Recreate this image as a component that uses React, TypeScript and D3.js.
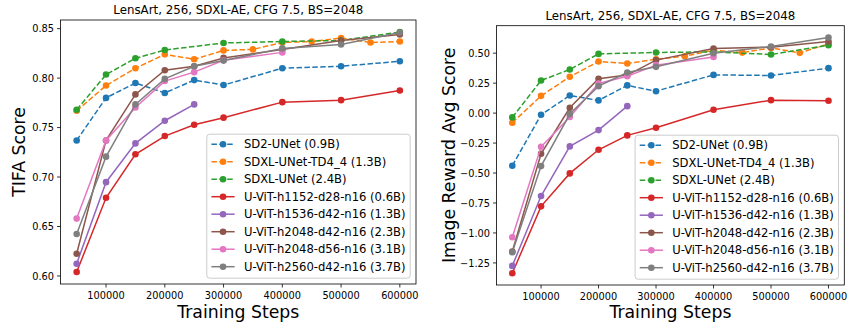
import React, { useEffect, useRef } from 'react';
import * as d3 from 'd3';

// training steps at which each run was evaluated
const stepsAll = [50000, 100000, 150000, 200000, 250000, 300000, 350000, 400000, 450000, 500000, 550000, 600000];
const stepsMain = [50000, 100000, 150000, 200000, 250000, 300000, 400000, 500000, 600000];
const stepsSDXL = [50000, 100000, 150000, 200000, 300000, 400000, 500000, 600000];
const stepsShort = [50000, 100000, 150000, 200000, 250000];
const stepsD56 = [50000, 100000, 150000, 200000, 250000, 300000, 400000];

const seriesNames = [
  'SD2-UNet (0.9B)',
  'SDXL-UNet-TD4_4 (1.3B)',
  'SDXL-UNet (2.4B)',
  'U-ViT-h1152-d28-n16 (0.6B)',
  'U-ViT-h1536-d42-n16 (1.3B)',
  'U-ViT-h2048-d42-n16 (2.3B)',
  'U-ViT-h2048-d56-n16 (3.1B)',
  'U-ViT-h2560-d42-n16 (3.7B)',
];
const seriesColors = ['#1f77b4', '#ff7f0e', '#2ca02c', '#d62728', '#9467bd', '#8c564b', '#e377c2', '#7f7f7f'];
const seriesDashed = [true, true, true, false, false, false, false, false];
const seriesSteps = [stepsMain, stepsAll, stepsSDXL, stepsMain, stepsShort, stepsMain, stepsD56, stepsMain];

// TIFA score
const tifaSD2 = [0.737, 0.780, 0.795, 0.785, 0.798, 0.793, 0.810, 0.812, 0.817];
const tifaTD4 = [0.767, 0.7925, 0.810, 0.824, 0.819, 0.828, 0.829, 0.836, 0.837, 0.8405, 0.836, 0.837];
const tifaSDXL = [0.768, 0.8036, 0.820, 0.8284, 0.8355, 0.837, 0.838, 0.8466];
const tifaH1152 = [0.604, 0.679, 0.723, 0.7414, 0.7528, 0.760, 0.7757, 0.7777, 0.7875];
const tifaH1536 = [0.6124, 0.6948, 0.734, 0.7569, 0.7734];
const tifaH2048d42 = [0.6225, 0.737, 0.7835, 0.808, 0.812, 0.8204, 0.829, 0.838, 0.844];
const tifaH2048d56 = [0.658, 0.737, 0.7703, 0.797, 0.806, 0.818, 0.826];
const tifaH2560 = [0.6424, 0.7206, 0.7734, 0.7992, 0.812, 0.8177, 0.830, 0.834, 0.846];

// Image Reward average score
const rwSD2 = [-0.439, -0.014, 0.147, 0.106, 0.231, 0.183, 0.319, 0.314, 0.375];
const rwTD4 = [-0.081, 0.144, 0.303, 0.431, 0.414, 0.45, 0.475, 0.525, 0.505, 0.544, 0.503, 0.578];
const rwSDXL = [-0.036, 0.272, 0.364, 0.494, 0.506, 0.511, 0.489, 0.567];
const rwH1152 = [-1.336, -0.778, -0.503, -0.306, -0.186, -0.122, 0.028, 0.108, 0.103];
const rwH1536 = [-1.275, -0.692, -0.278, -0.142, 0.058];
const rwH2048d42 = [-1.155, -0.339, 0.044, 0.286, 0.317, 0.442, 0.539, 0.55, 0.597];
const rwH2048d56 = [-1.036, -0.281, -0.033, 0.247, 0.308, 0.40, 0.469];
const rwH2560 = [-1.161, -0.442, -0.008, 0.225, 0.339, 0.386, 0.50, 0.556, 0.631];

const tifaValues = [tifaSD2, tifaTD4, tifaSDXL, tifaH1152, tifaH1536, tifaH2048d42, tifaH2048d56, tifaH2560];
const rwValues = [rwSD2, rwTD4, rwSDXL, rwH1152, rwH1536, rwH2048d42, rwH2048d56, rwH2560];

const xTicks = [100000, 200000, 300000, 400000, 500000, 600000];
const tifaTicks = [0.6, 0.65, 0.7, 0.75, 0.8, 0.85];
const rwTicks = [-1.25, -1.0, -0.75, -0.5, -0.25, 0.0, 0.25, 0.5];

const chartTitle = 'LensArt, 256, SDXL-AE, CFG 7.5, BS=2048';
const xLabel = 'Training Steps';

const FONT = 'DejaVu Sans, sans-serif';

// matplotlib-style padded extent (5% margins)
const padded = (vals: number[]) => {
  const [lo, hi] = d3.extent(vals) as [number, number];
  const m = (hi - lo) * 0.05;
  return [lo - m, hi + m];
};

const drawPanel = (svg: any, cfg: any) => {
  const { left, right, top, bottom, values, ticks, yLabel, titleY, yLabelX } = cfg;

  const x = d3.scaleLinear().domain(padded([50000, 600000])).range([left, right]);
  const y = d3.scaleLinear().domain(padded(values.flat())).range([bottom, top]);

  const g = svg.append('g');

  // series
  values.forEach((vals: number[], i: number) => {
    const pts = vals.map((v, j) => [seriesSteps[i][j], v]);
    const line = d3.line<number[]>().x(d => x(d[0])).y(d => y(d[1]));
    g.append('path')
      .attr('d', line(pts))
      .attr('fill', 'none')
      .attr('stroke', seriesColors[i])
      .attr('stroke-width', 1.5)
      .attr('stroke-dasharray', seriesDashed[i] ? '5.5,2.4' : null);
    g.selectAll(null)
      .data(pts)
      .enter()
      .append('circle')
      .attr('cx', (d: number[]) => x(d[0]))
      .attr('cy', (d: number[]) => y(d[1]))
      .attr('r', 3.3)
      .attr('fill', seriesColors[i]);
  });

  // frame
  g.append('rect')
    .attr('x', left)
    .attr('y', top)
    .attr('width', right - left)
    .attr('height', bottom - top)
    .attr('fill', 'none')
    .attr('stroke', '#000')
    .attr('stroke-width', 0.8);

  // x ticks
  xTicks.forEach(t => {
    const px = x(t);
    g.append('line').attr('x1', px).attr('x2', px).attr('y1', bottom).attr('y2', bottom + 3.5)
      .attr('stroke', '#000').attr('stroke-width', 0.8);
    g.append('text').attr('x', px).attr('y', bottom + 15.3)
      .attr('text-anchor', 'middle').style('font-size', '9.8px').style('font-family', FONT)
      .text(d3.format('d')(t));
  });

  // y ticks
  ticks.forEach((t: number) => {
    const py = y(t);
    g.append('line').attr('x1', left - 3.5).attr('x2', left).attr('y1', py).attr('y2', py)
      .attr('stroke', '#000').attr('stroke-width', 0.8);
    g.append('text').attr('x', left - 6.5).attr('y', py + 3.6)
      .attr('text-anchor', 'end').style('font-size', '9.8px').style('font-family', FONT)
      .text(d3.format('.2f')(t).replace('-', '\u2212'));
  });

  // title & labels
  g.append('text').attr('x', (left + right) / 2).attr('y', titleY)
    .attr('text-anchor', 'middle').style('font-size', '11.8px').style('font-family', FONT)
    .text(chartTitle);
  g.append('text').attr('x', (left + right) / 2).attr('y', 318)
    .attr('text-anchor', 'middle').style('font-size', '17.3px').style('font-family', FONT)
    .text(xLabel);
  g.append('text')
    .attr('transform', `translate(${yLabelX}, ${(top + bottom) / 2}) rotate(-90)`)
    .attr('text-anchor', 'middle').style('font-size', '17.3px').style('font-family', FONT)
    .text(yLabel);

  // legend in lower right
  const fs = 11.6;
  const rowH = 17.5;
  const leg = g.append('g');
  const box = leg.append('rect');
  const labels = seriesNames.map((name, i) =>
    leg.append('text').style('font-size', `${fs}px`).style('font-family', FONT).text(name)
  );
  const textW = d3.max(labels, (l: any) => l.node().getComputedTextLength()) as number;
  const boxW = 0.4 * fs + 2 * fs + 0.8 * fs + textW + 0.4 * fs;
  const boxH = seriesNames.length * rowH + 4;
  const bx = right - 0.5 * fs - boxW;
  const by = bottom - 0.5 * fs - boxH;
  box.attr('x', bx).attr('y', by).attr('width', boxW).attr('height', boxH)
    .attr('rx', 3).attr('fill', 'white').attr('fill-opacity', 0.8)
    .attr('stroke', '#cccccc').attr('stroke-width', 1);
  seriesNames.forEach((name, i) => {
    const cy = by + 10 + i * rowH;
    const hx = bx + 0.4 * fs;
    leg.append('line').attr('x1', hx).attr('x2', hx + 2 * fs).attr('y1', cy).attr('y2', cy)
      .attr('stroke', seriesColors[i]).attr('stroke-width', 1.5)
      .attr('stroke-dasharray', seriesDashed[i] ? '5.5,2.4' : null);
    leg.append('circle').attr('cx', hx + fs).attr('cy', cy).attr('r', 3.3).attr('fill', seriesColors[i]);
    labels[i].attr('x', hx + 2.8 * fs).attr('y', cy + 4.2);
  });
};

const App = () => {
  const svgRef = useRef<SVGSVGElement>(null);

  useEffect(() => {
    const svg = d3.select(svgRef.current);
    svg.selectAll('*').remove();
    svg.append('rect').attr('width', 849).attr('height', 326).attr('fill', 'white');

    drawPanel(svg, {
      left: 60.5, right: 416, top: 20, bottom: 284,
      values: tifaValues, ticks: tifaTicks, yLabel: 'TIFA Score',
      titleY: 14, yLabelX: 25,
    });
    drawPanel(svg, {
      left: 496.5, right: 844.3, top: 25.7, bottom: 285,
      values: rwValues, ticks: rwTicks, yLabel: 'Image Reward Avg Score',
      titleY: 19.7, yLabelX: 454.5,
    });
  }, []);

  return (
    <svg ref={svgRef} width={849} height={326}
      style={{ position: 'absolute', left: 0, top: 0, display: 'block' }} />
  );
};

export default App;
